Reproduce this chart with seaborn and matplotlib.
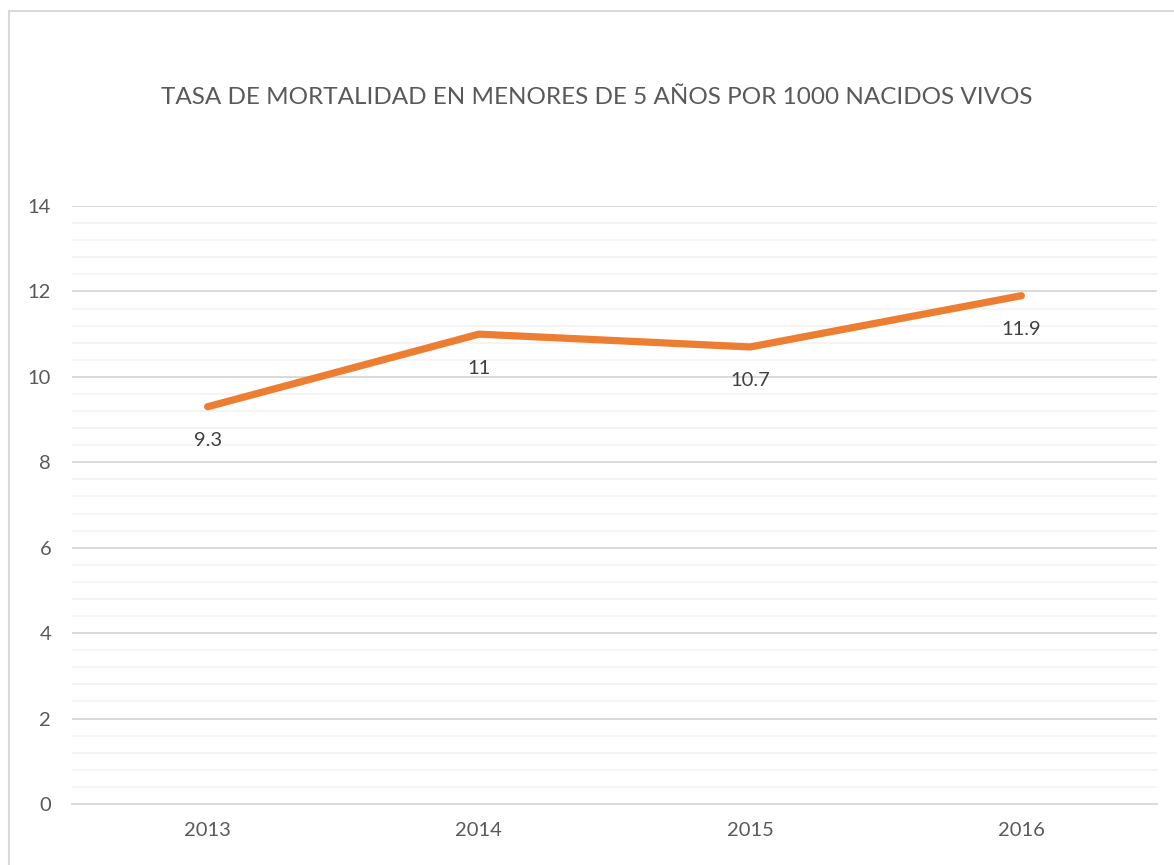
import matplotlib
matplotlib.use("Agg")
import matplotlib.pyplot as plt
import seaborn as sns
import pandas as pd
import numpy as np
from matplotlib.patches import Rectangle

years = ["2013", "2014", "2015", "2016"]
rates = [9.3, 11, 10.7, 11.9]
value_labels = ["9.3", "11", "10.7", "11.9"]
title = "TASA DE MORTALIDAD EN MENORES DE 5 AÑOS POR 1000 NACIDOS VIVOS"

sns.set_theme(style="white")
plt.rcParams['font.family'] = ['Lato', 'DejaVu Sans']

W, H = 1174, 865
fig = plt.figure(figsize=(W / 100, H / 100), dpi=100)
ax = fig.add_axes([72 / W, 61 / H, (1157 - 72) / W, (804 - 206) / H])

df = pd.DataFrame({"year": years, "rate": rates})
df["x"] = np.arange(len(years))
sns.lineplot(data=df, x="x", y="rate", ax=ax, color="#ED7D31", linewidth=5.2,
             solid_capstyle="round", solid_joinstyle="round", zorder=3)

ax.set_xlim(-0.5, len(years) - 0.5)
ax.set_ylim(0, 14)
ax.set_xticks(df["x"])
ax.set_xticklabels(years)
ax.set_yticks(np.arange(0, 15, 2))
ax.set_yticks(np.arange(0, 14.01, 0.4), minor=True)
ax.grid(which="major", axis="y", color="#D9D9D9", linewidth=1.4, zorder=1)
ax.grid(which="minor", axis="y", color="#F2F2F2", linewidth=1.2, zorder=0)
ax.grid(axis="x", visible=False)
for s in ["top", "right", "left"]:
    ax.spines[s].set_visible(False)
ax.spines["bottom"].set_color("#D9D9D9")
ax.spines["bottom"].set_linewidth(1.4)
ax.tick_params(axis="both", which="both", length=0, labelsize=14.5, colors="#595959")
ax.tick_params(axis="y", pad=15)
ax.tick_params(axis="x", pad=13)
ax.set_xlabel("")
ax.set_ylabel("")

for xi, v, lab in zip(df["x"], rates, value_labels):
    ax.annotate(lab, (xi, v), xytext=(0, -34), textcoords="offset pixels",
                ha="center", va="center", fontsize=14.5, color="#404040")

fig.text(597 / W, 1 - 97 / H, title, ha="center", va="center",
         fontsize=17.5, color="#595959")

fig.patches.append(Rectangle((8.5 / W, -0.1), 1.5, 1.1 - 11.5 / H,
                             transform=fig.transFigure, fill=False,
                             edgecolor="#D9D9D9", linewidth=1.5))

fig.savefig("out.png", dpi=100)
